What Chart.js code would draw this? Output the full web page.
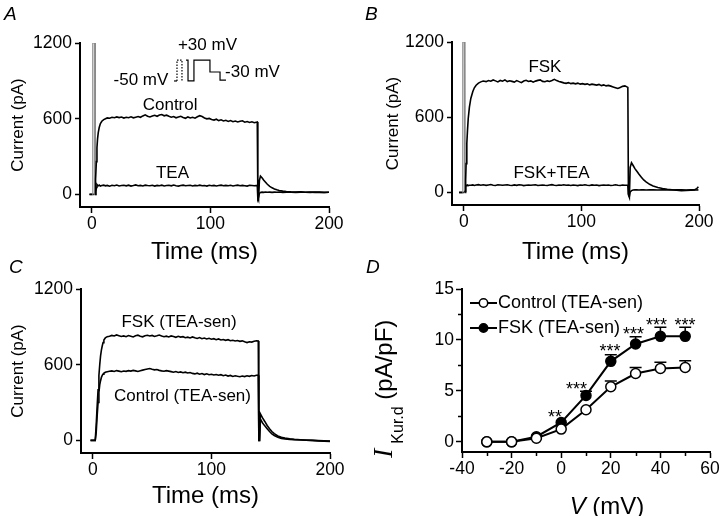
<!DOCTYPE html>
<html><head><meta charset="utf-8">
<script src="https://cdn.jsdelivr.net/npm/chart.js@4.4.1/dist/chart.umd.min.js"></script>
<style>
html,body{margin:0;padding:0;background:#fff;}
body{width:726px;height:516px;position:relative;overflow:hidden;font-family:'Liberation Sans',Arial,sans-serif;}
canvas{position:absolute;}
.lbl{position:absolute;font-style:italic;font-size:19px;line-height:19px;color:#000;}
</style></head><body>
<canvas id="cA" width="360" height="270" style="left:0;top:0"></canvas>
<canvas id="cB" width="366" height="270" style="left:360px;top:0"></canvas>
<canvas id="cC" width="360" height="261" style="left:0;top:255px"></canvas>
<canvas id="cD" width="366" height="261" style="left:360px;top:255px"></canvas>
<div class="lbl" style="left:4px;top:4px">A</div>
<div class="lbl" style="left:365px;top:4px">B</div>
<div class="lbl" style="left:9px;top:257px">C</div>
<div class="lbl" style="left:366px;top:257px">D</div>
<script>
// ---------------- DATA ----------------
// Panel A: time (ms) and currents (pA)
const timeA = [-2,0.5,0.8,2.4,2.7,2.9,3.1,3.4,3.8,4.3,
  4.8,5.4,6.2,7.2,8.4,10,11.5,13,15,17,
  19,21,23,25,27,29,31,33,35,37,
  39,41,43,45,47,49,51,53,55,57,
  59,61,63,65,67,69,71,73,75,77,
  79,81,83,85,87,89,91,93,95,97,
  99,101,103,105,107,109,111,113,115,117,
  119,121,123,125,127,129,131,133,135,137,
  139.5,140,140.6,141.3,142.2,143.5,145,146.5,148,150,
  152,154,156,158,161,164,168,172,176,180,
  184,188,192,196,200];
const controlA = [0,0,1200,1200,0,0,5,120,260,370,
  440,490,530,562,580,593,600,606,604,611,
  608,614,609,613,605,611,608,615,607,612,
  617,611,622,631,620,614,621,627,619,629,
  633,623,628,619,612,617,607,613,619,610,
  603,614,606,611,604,615,624,617,606,599,
  602,593,589,596,585,591,582,587,578,585,
  576,581,574,579,583,572,577,570,575,568,
  574,-30,-45,110,145,132,112,96,80,64,
  52,43,36,31,26,23,20,18,20,17,
  19,16,18,15,17];
const teaA = [0,0,0,0,1200,1200,0,20,55,78,
  72,68,74,66,70,73,68,71,65,72,
  69,74,67,70,72,68,73,66,70,75,
  69,71,67,73,70,68,72,66,71,69,
  73,67,70,72,68,74,69,66,71,73,
  68,70,72,67,71,69,73,68,70,66,
  72,69,71,67,70,73,68,71,69,72,
  67,70,73,68,71,69,66,72,70,68,
  71,-35,-20,8,15,18,16,19,17,18,
  16,18,17,19,16,18,17,16,18,17,
  16,18,17,16,17];

// Panel B
const timeB = [-4,-1,-0.8,0.6,0.8,1.0,1.2,1.6,2,2.6,
  3.2,3.8,4.8,6,7.7,9,10.5,12.5,14.5,16.5,
  19,21,23,25,27,29,31,33,35,37,
  39,41,43,45,47,49,51,53,55,57,
  59,61,63,65,67,69,71,73,75,77,
  79,81,83,85,87,89,91,93,95,97,
  99,101,103,105,107,109,111,113,115,117,
  119,121,123,125,127,129,131,133,135,137,
  139.5,140,140.8,141.5,142.6,144,145.5,147,149,151,
  153,155,158,161,165,169,173,177,181,185,
  189,193,196,198,199.5];
const fskB = [0,0,1200,1200,0,0,10,100,230,390,
  500,590,680,750,805,835,855,872,882,889,
  884,893,887,897,890,882,893,887,898,884,
  891,886,880,892,884,876,889,895,885,890,
  880,888,894,898,886,883,890,885,893,902,
  892,885,880,874,870,876,868,872,866,872,
  864,868,862,866,858,864,860,856,862,852,
  858,850,854,848,842,836,830,838,846,850,
  838,-20,-40,200,237,215,190,171,145,122,
  100,85,65,52,40,32,26,22,18,15,
  16,18,20,30,46];
const fskTeaB = [0,0,0,0,1200,1200,0,45,58,56,
  60,55,58,57,60,56,59,62,58,61,
  57,60,63,58,56,61,59,57,60,62,
  58,56,60,57,61,59,55,58,60,57,
  59,61,56,58,60,57,55,59,62,58,
  56,60,58,61,57,59,56,60,58,55,
  59,57,61,58,56,60,57,59,55,58,
  60,57,59,56,58,61,57,55,59,58,
  57,-10,-30,5,15,20,22,21,20,22,
  21,20,22,21,20,22,21,20,22,21,
  20,21,22,20,21];

// Panel C
const timeC = [-2,2,2.8,3.65,4.4,5.1,5.8,6.5,7.2,7.9,
  8.6,9.3,10.5,12.1,14,16,18,20,22,24,
  26,28,30,32,34,36,38,40,42,44,
  46,48,50,52,54,56,58,60,62,64,
  66,68,70,72,74,76,78,80,82,84,
  86,88,90,92,94,96,98,100,102,104,
  106,108,110,112,114,116,118,120,122,124,
  126,128,130,132,134,136,138,139.5,140,140.6,
  141.3,143,145,147,149,151,153,156,159,162,
  166,170,175,180,185,190,195,200];
const fskC = [0,0,120,276,400,512,600,670,715,748,
  775,796,812,822,826,832,828,836,830,824,
  828,822,831,826,820,829,834,826,821,830,
  833,828,832,824,829,835,827,822,826,820,
  828,823,817,825,819,822,814,818,812,820,
  813,808,815,806,811,804,809,802,806,798,
  804,796,800,793,798,790,794,788,792,785,
  789,781,775,782,779,786,790,788,0,0,
  210,180,150,118,92,70,53,35,24,18,
  12,8,5,2,0,-4,-6,-8];
const controlC = [0,0,60,197,300,381,440,473,500,515,
  525,532,540,544,548,551,546,553,549,544,
  550,547,553,549,555,551,546,552,557,562,
  566,570,564,559,562,555,551,548,553,549,
  545,540,546,538,543,536,541,534,538,531,
  527,533,525,530,522,528,520,524,518,522,
  516,521,513,518,510,515,507,512,508,505,
  510,506,512,508,514,510,516,517,0,0,
  170,140,115,92,70,52,39,25,16,11,
  8,5,3,1,0,-2,-4,-5];

// Panel D: I-V relation
const voltages = [-30,-20,-10,0,10,20,30,40,50];
const controlD = [0,0,0.35,1.25,3.15,5.4,6.7,7.2,7.3];
const controlErr = [0,0,0.1,0.2,0.3,0.57,0.6,0.6,0.65];
const fskD = [0,0,0.5,1.9,4.55,7.9,9.6,10.35,10.35];
const fskErr = [0,0,0.15,0.25,0.42,0.65,0.72,0.9,0.9];
const significance = ['','','','**','***','***','***','***','***'];

// tick values
const traceXTicks = [0,100,200];
const traceYTicks = [0,600,1200];
const ivXTicks = [-40,-20,0,20,40,60];
const ivYTicks = [0,5,10,15];

// ---------------- HELPERS ----------------
const FAM = "'Liberation Sans', Arial, sans-serif";
Chart.defaults.font.family = FAM;
Chart.defaults.color = '#000';
const plain = v => String(v);

function pts(t, v){ return t.map((x,i)=>({x:x, y:v[i]})); }

const textLabels = {
  id:'textLabels',
  afterDatasetsDraw(chart, args, opts){
    const {ctx, scales:{x,y}} = chart;
    (opts.items||[]).forEach(it=>{
      ctx.save();
      ctx.font = (it.size||17)+"px "+FAM;
      ctx.fillStyle='#000';
      ctx.textAlign = it.align||'center';
      ctx.textBaseline='middle';
      ctx.fillText(it.text, x.getPixelForValue(it.x), y.getPixelForValue(it.y)+(it.dy||0));
      ctx.restore();
    });
  }
};

const protocol = {
  id:'protocol',
  afterDatasetsDraw(chart, args, opts){
    if(!opts.paths) return;
    const {ctx, scales:{x,y}} = chart;
    ctx.save();
    ctx.strokeStyle='#000'; ctx.lineWidth=1.2;
    opts.paths.forEach(p=>{
      ctx.setLineDash(p.dash?[1.5,1.5]:[]);
      ctx.beginPath();
      p.pts.forEach((q,i)=>{
        const px=x.getPixelForValue(q[0]), py=y.getPixelForValue(q[1]);
        if(i===0) ctx.moveTo(px,py); else ctx.lineTo(px,py);
      });
      ctx.stroke();
    });
    ctx.restore();
  }
};

function traceScales(o){
  const tickFont = {size:17.5, family:FAM};
  return {
    x:{type:'linear', min:-10, max:200,
      afterBuildTicks:s=>{ s.ticks = traceXTicks.map(v=>({value:v})); },
      afterFit:s=>{ s.height=o.xh; },
      ticks:{font:tickFont, color:'#000', padding:1, maxRotation:0, callback:plain},
      grid:{display:true, drawOnChartArea:false, drawTicks:true, tickLength:6, tickColor:'#000', tickWidth:1.5},
      border:{display:true, color:'#000', width:2},
      title:{display:true, text:'Time (ms)', color:'#000', font:{size:24, family:FAM}, padding:{top:0,bottom:o.xpb}}
    },
    y:{type:'linear', min:-100, max:1200,
      afterBuildTicks:s=>{ s.ticks = traceYTicks.map(v=>({value:v})); },
      afterFit:s=>{ s.width=o.yw; },
      ticks:{font:tickFont, color:'#000', padding:3, callback:plain},
      grid:{display:true, drawOnChartArea:false, drawTicks:true, tickLength:5, tickColor:'#000', tickWidth:1.5},
      border:{display:true, color:'#000', width:2},
      title:{display:true, text:'Current (pA)', color:'#000', font:{size:17, family:FAM}, padding:{top:o.ypt,bottom:0}}
    }
  };
}

function traceDS(t, v){
  return {data:pts(t,v), borderColor:'#000', borderWidth:1.6, pointRadius:0, fill:false, tension:0,
    segment:{borderColor: c => (c.p0.parsed.y>=1000 || c.p1.parsed.y>=1000) ? '#8a8a8a' : '#000',
             borderWidth: c => (c.p0.parsed.y>=1000 || c.p1.parsed.y>=1000) ? 1.2 : 1.6}};
}

function traceChart(id, datasets, o, labels, paths){
  return new Chart(document.getElementById(id), {
    type:'line',
    data:{datasets:datasets},
    options:{
      responsive:false, animation:false, devicePixelRatio:1,
      layout:{padding:o.pad},
      scales:traceScales(o),
      plugins:{legend:{display:false}, tooltip:{enabled:false},
        textLabels:{items:labels}, protocol:{paths:paths}}
    },
    plugins:[textLabels, protocol]
  });
}

// ---------------- PANEL A ----------------
traceChart('cA', [traceDS(timeA, controlA), traceDS(timeA, teaA)],
  {pad:{left:0, top:43, right:31, bottom:0}, xh:63, yw:80, xpb:3, ypt:8},
  [{text:'Control', x:66, y:708},
   {text:'TEA', x:68, y:170},
   {text:'+30 mV', x:97.5, y:1184},
   {text:'-50 mV', x:41.4, y:907},
   {text:'-30 mV', x:135.5, y:970}],
  [{dash:false, pts:[[69.3,899],[71.8,899]]},
   {dash:true, pts:[[71.8,899],[71.8,1065],[76,1065],[76,899]]},
   {dash:false, pts:[[79.4,1065],[81.1,1065],[81.1,899],[86.1,899],[86.1,1065],[99.6,1065],[99.6,970],[108.1,970],[108.1,905],[113.1,905]]}]
);

// ---------------- PANEL B ----------------
traceChart('cB', [traceDS(timeB, fskB), traceDS(timeB, fskTeaB)],
  {pad:{left:0, top:42, right:27, bottom:0}, xh:65, yw:92, xpb:3, ypt:23},
  [{text:'FSK', x:69, y:1000},
   {text:'FSK+TEA', x:74.6, y:155}], null);

// ---------------- PANEL C ----------------
traceChart('cC', [traceDS(timeC, fskC), traceDS(timeC, controlC)],
  {pad:{left:0, top:34, right:30, bottom:0}, xh:63, yw:81, xpb:5, ypt:8},
  [{text:'FSK (TEA-sen)', x:72.7, y:938},
   {text:'Control (TEA-sen)', x:75.6, y:352}], null);

// ---------------- PANEL D ----------------
const errBars = {
  id:'errBars',
  beforeDatasetsDraw(chart){
    const {ctx, scales:{x,y}} = chart;
    ctx.save(); ctx.strokeStyle='#000'; ctx.lineWidth=1.5;
    [[controlD,controlErr],[fskD,fskErr]].forEach(([v,e])=>{
      v.forEach((val,i)=>{
        const px=x.getPixelForValue(voltages[i]);
        const p0=y.getPixelForValue(val), p1=y.getPixelForValue(val+e[i]);
        if(p0-p1<4) return;
        ctx.beginPath(); ctx.moveTo(px,p0); ctx.lineTo(px,p1);
        ctx.moveTo(px-6,p1); ctx.lineTo(px+6,p1); ctx.stroke();
      });
    });
    ctx.restore();
  }
};
const starLabels = {
  id:'starLabels',
  afterDatasetsDraw(chart){
    const {ctx, scales:{x,y}} = chart;
    const pos = [null,null,null,[-2.5,2.83],[6.2,5.58],[19.7,9.3],[29.2,10.98],[38.4,11.86],[49.9,11.86]];
    ctx.save(); ctx.fillStyle='#000'; ctx.font='18px '+FAM;
    ctx.textAlign='center'; ctx.textBaseline='alphabetic';
    significance.forEach((s,i)=>{
      if(!s) return;
      ctx.fillText(s, x.getPixelForValue(pos[i][0]), y.getPixelForValue(pos[i][1])+10);
    });
    ctx.restore();
  }
};
const minorTicks = {
  id:'minorTicks',
  afterDraw(chart){
    const {ctx, chartArea:a, scales:{x,y}} = chart;
    ctx.save(); ctx.strokeStyle='#000'; ctx.lineWidth=1.5;
    [2.5,7.5,12.5].forEach(v=>{ const py=Math.round(y.getPixelForValue(v))+0.5;
      ctx.beginPath(); ctx.moveTo(a.left-4,py); ctx.lineTo(a.left,py); ctx.stroke(); });
    [-30,-10,10,30,50].forEach(v=>{ const px=Math.round(x.getPixelForValue(v))+0.5;
      ctx.beginPath(); ctx.moveTo(px,a.bottom); ctx.lineTo(px,a.bottom+4); ctx.stroke(); });
    ctx.restore();
  }
};
const legendD = {
  id:'legendD',
  afterDraw(chart){
    const ctx = chart.ctx;
    const items = [{label:'Control (TEA-sen)', fill:'#fff', y:48},{label:'FSK (TEA-sen)', fill:'#000', y:73}];
    ctx.save();
    items.forEach(it=>{
      ctx.strokeStyle='#000'; ctx.lineWidth=2;
      ctx.beginPath(); ctx.moveTo(110,it.y); ctx.lineTo(137,it.y); ctx.stroke();
      ctx.beginPath(); ctx.arc(123.5,it.y,4.2,0,Math.PI*2); ctx.fillStyle=it.fill; ctx.fill();
      ctx.lineWidth=1.5; ctx.stroke();
      ctx.fillStyle='#000'; ctx.font='18px '+FAM; ctx.textAlign='left'; ctx.textBaseline='middle';
      ctx.fillText(it.label, 138, it.y);
    });
    ctx.restore();
  }
};
const titlesD = {
  id:'titlesD',
  afterDraw(chart){
    const ctx = chart.ctx;
    ctx.save(); ctx.fillStyle='#000';
    ctx.translate(26,203); ctx.rotate(-Math.PI/2);
    ctx.textAlign='left'; ctx.textBaseline='alphabetic';
    ctx.font="italic 28px 'Liberation Serif', 'Times New Roman', serif";
    ctx.fillText('I',0,6);
    let w = ctx.measureText('I').width + 5;
    ctx.font='16px '+FAM;
    ctx.fillText('Kur.d', w, 17);
    w += ctx.measureText('Kur.d').width;
    ctx.font='24px '+FAM;
    ctx.fillText(' (pA/pF)', w, 6);
    ctx.restore();
    ctx.save(); ctx.fillStyle='#000'; ctx.textBaseline='middle'; ctx.textAlign='left';
    ctx.font='italic 24px '+FAM;
    const a = ctx.measureText('V').width;
    ctx.font='24px '+FAM;
    const b = ctx.measureText(' (mV)').width;
    const x0 = 247 - (a+b)/2;
    ctx.font='italic 24px '+FAM; ctx.fillText('V', x0, 252);
    ctx.font='24px '+FAM; ctx.fillText(' (mV)', x0+a, 252);
    ctx.restore();
  }
};

new Chart(document.getElementById('cD'), {
  type:'line',
  data:{datasets:[
    {label:'Control (TEA-sen)', data:pts(voltages, controlD), borderColor:'#000', borderWidth:2,
     pointRadius:5, pointBackgroundColor:'#fff', pointBorderColor:'#000', pointBorderWidth:1.5, tension:0, fill:false},
    {label:'FSK (TEA-sen)', data:pts(voltages, fskD), borderColor:'#000', borderWidth:2,
     pointRadius:5, pointBackgroundColor:'#000', pointBorderColor:'#000', pointBorderWidth:1.5, tension:0, fill:false}
  ]},
  options:{
    responsive:false, animation:false, devicePixelRatio:1,
    layout:{padding:{left:0, top:34, right:16, bottom:0}},
    scales:{
      x:{type:'linear', min:-40, max:60,
        afterBuildTicks:s=>{ s.ticks = ivXTicks.map(v=>({value:v})); },
        afterFit:s=>{ s.height=64; },
        ticks:{font:{size:17.5}, color:'#000', padding:1, maxRotation:0, callback:plain},
        grid:{display:true, drawOnChartArea:false, drawTicks:true, tickLength:6, tickColor:'#000', tickWidth:1.5},
        border:{display:true, color:'#000', width:2}},
      y:{type:'linear', min:-1, max:15,
        afterBuildTicks:s=>{ s.ticks = ivYTicks.map(v=>({value:v})); },
        afterFit:s=>{ s.width=102; },
        ticks:{font:{size:17.5}, color:'#000', padding:2, callback:plain},
        grid:{display:true, drawOnChartArea:false, drawTicks:true, tickLength:6, tickColor:'#000', tickWidth:1.5},
        border:{display:true, color:'#000', width:2}}
    },
    plugins:{legend:{display:false}, tooltip:{enabled:false}}
  },
  plugins:[errBars, starLabels, minorTicks, legendD, titlesD]
});
</script>
</body></html>
